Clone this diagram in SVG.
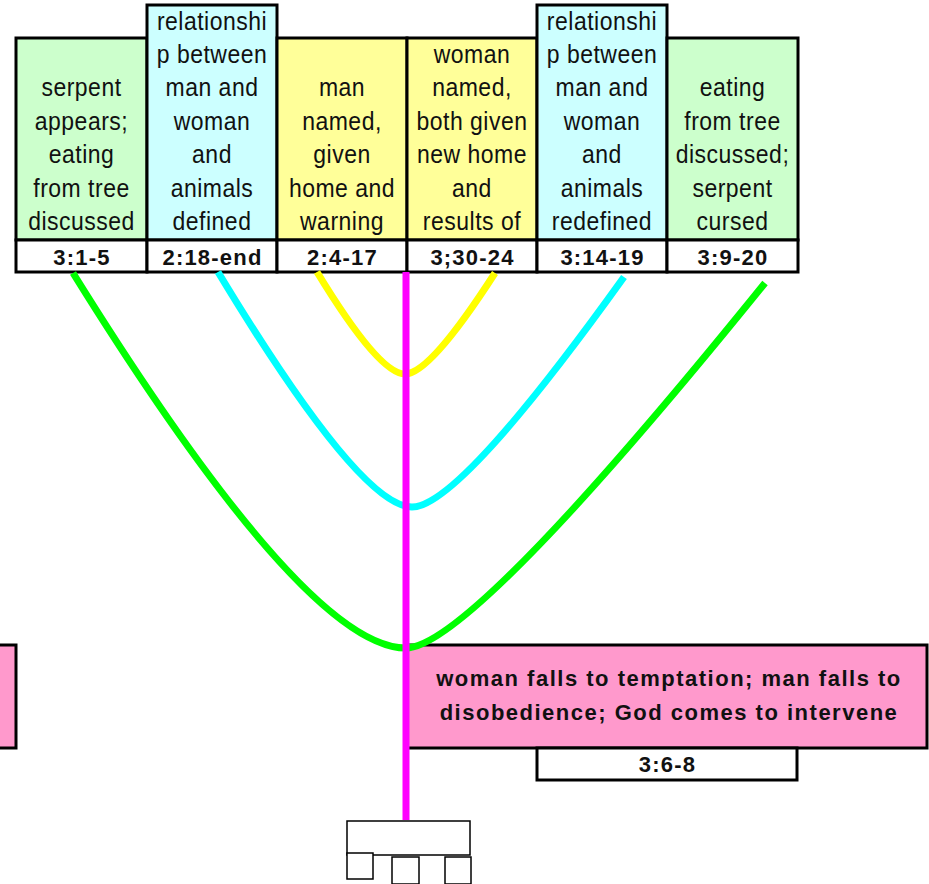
<svg xmlns="http://www.w3.org/2000/svg" width="929" height="884" viewBox="0 0 929 884">
<style>
.cell{stroke:#000;stroke-width:3}
.g{fill:#CCFFCC}.c{fill:#CCFFFF}.y{fill:#FFFF99}.p{fill:#FF99CC}
.lab{fill:#fff;stroke:#000;stroke-width:3}
.t{font-family:"Liberation Sans",Arial,sans-serif;font-size:23px;letter-spacing:0.5px;fill:#111;text-anchor:middle}
.b{font-family:"Liberation Sans",Arial,sans-serif;font-size:22px;font-weight:bold;letter-spacing:1.2px;fill:#111;text-anchor:middle}
.pb{font-family:"Liberation Sans",Arial,sans-serif;font-size:22px;font-weight:bold;letter-spacing:1.5px;fill:#111;text-anchor:middle}
.curve{fill:none;stroke-width:7}
.thin{fill:#fff;stroke:#000;stroke-width:1.5}
</style>
<g id="col1">
<rect class="cell g" x="16" y="38" width="131" height="202"/>
<text class="t" transform="scale(1,1.1)"><tspan x="81.5" y="87.64">serpent</tspan><tspan x="81.5" y="118">appears;</tspan><tspan x="81.5" y="148.36">eating</tspan><tspan x="81.5" y="178.73">from tree</tspan><tspan x="81.5" y="209.09">discussed</tspan></text>
<rect class="lab" x="16" y="240" width="131" height="32"/>
<text class="b" x="82" y="264.5">3:1-5</text>
</g>
<g id="col2">
<rect class="cell c" x="147" y="5" width="130" height="235"/>
<text class="t" transform="scale(1,1.1)"><tspan x="212" y="26.9">relationshi</tspan><tspan x="212" y="57.27">p between</tspan><tspan x="212" y="87.64">man and</tspan><tspan x="212" y="118">woman</tspan><tspan x="212" y="148.36">and</tspan><tspan x="212" y="178.73">animals</tspan><tspan x="212" y="209.09">defined</tspan></text>
<rect class="lab" x="147" y="240" width="130" height="32"/>
<text class="b" x="212.5" y="264.5">2:18-end</text>
</g>
<g id="col3">
<rect class="cell y" x="277" y="38" width="130" height="202"/>
<text class="t" transform="scale(1,1.1)"><tspan x="342" y="87.64">man</tspan><tspan x="342" y="118">named,</tspan><tspan x="342" y="148.36">given</tspan><tspan x="342" y="178.73">home and</tspan><tspan x="342" y="209.09">warning</tspan></text>
<rect class="lab" x="277" y="240" width="130" height="32"/>
<text class="b" x="342.5" y="264.5">2:4-17</text>
</g>
<g id="col4">
<rect class="cell y" x="407" y="38" width="130" height="202"/>
<text class="t" transform="scale(1,1.1)"><tspan x="472" y="57.27">woman</tspan><tspan x="472" y="87.64">named,</tspan><tspan x="472" y="118">both given</tspan><tspan x="472" y="148.36">new home</tspan><tspan x="472" y="178.73">and</tspan><tspan x="472" y="209.09">results of</tspan></text>
<rect class="lab" x="407" y="240" width="130" height="32"/>
<text class="b" x="472.5" y="264.5">3;30-24</text>
</g>
<g id="col5">
<rect class="cell c" x="537" y="5" width="130" height="235"/>
<text class="t" transform="scale(1,1.1)"><tspan x="602" y="26.9">relationshi</tspan><tspan x="602" y="57.27">p between</tspan><tspan x="602" y="87.64">man and</tspan><tspan x="602" y="118">woman</tspan><tspan x="602" y="148.36">and</tspan><tspan x="602" y="178.73">animals</tspan><tspan x="602" y="209.09">redefined</tspan></text>
<rect class="lab" x="537" y="240" width="130" height="32"/>
<text class="b" x="602.5" y="264.5">3:14-19</text>
</g>
<g id="col6">
<rect class="cell g" x="667" y="38" width="131" height="202"/>
<text class="t" transform="scale(1,1.1)"><tspan x="732.5" y="87.64">eating</tspan><tspan x="732.5" y="118">from tree</tspan><tspan x="732.5" y="148.36">discussed;</tspan><tspan x="732.5" y="178.73">serpent</tspan><tspan x="732.5" y="209.09">cursed</tspan></text>
<rect class="lab" x="667" y="240" width="131" height="32"/>
<text class="b" x="733" y="264.5">3:9-20</text>
</g>
<g id="leftbox">
<rect class="cell p" x="-5" y="645" width="21" height="103"/>
</g>
<g id="center">
<rect class="cell p" x="407" y="645" width="520" height="103"/>
<text class="pb"><tspan x="669" y="686">woman falls to temptation; man falls to</tspan><tspan x="669" y="720">disobedience; God comes to intervene</tspan></text>
<rect class="lab" x="537" y="748" width="260" height="32"/>
<text class="b" x="667.5" y="772">3:6-8</text>
</g>
<g id="connectors">
<path class="curve" stroke="#00FF00" d="M73,273 Q306,648 406,648 Q470,648 765,283"/>
<path class="curve" stroke="#00FFFF" d="M218,272 Q360,507 412,507 Q459,507 624,277"/>
<path class="curve" stroke="#FFFF00" d="M317,272 Q379,374 405,374 Q430,374 495,273"/>
<line x1="406" y1="272" x2="406" y2="820" stroke="#FF00FF" stroke-width="7"/>
</g>
<g id="base">
<rect class="thin" x="347" y="821" width="123" height="34"/>
<rect class="thin" x="347" y="853" width="26" height="26"/>
<rect class="thin" x="392" y="857" width="27" height="27"/>
<rect class="thin" x="445" y="857" width="26" height="27"/>
</g>
</svg>
